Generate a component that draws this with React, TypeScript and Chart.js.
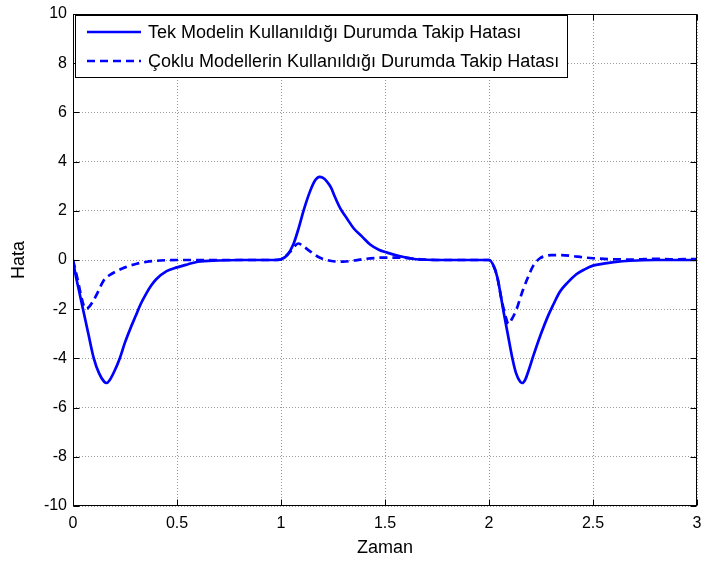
import React, { useEffect, useRef } from "react";
import { Chart, registerables } from "chart.js";

Chart.register(...registerables);

const LABEL_SINGLE = "Tek Modelin Kullanıldığı Durumda Takip Hatası";
const LABEL_MULTI = "Çoklu Modellerin Kullanıldığı Durumda Takip Hatası";
const X_TITLE = "Zaman";
const Y_TITLE = "Hata";

const xTicks = [0, 0.5, 1, 1.5, 2, 2.5, 3];
const yTicks = [-10, -8, -6, -4, -2, 0, 2, 4, 6, 8, 10];

const tSingle = [0, 0.01, 0.025, 0.05, 0.075, 0.1, 0.125, 0.15, 0.162, 0.175, 0.2, 0.226, 0.25, 0.275, 0.3, 0.325, 0.35, 0.375, 0.4, 0.45, 0.5, 0.55, 0.6, 0.7, 0.8, 0.97, 1.0, 1.03, 1.06, 1.085, 1.11, 1.14, 1.165, 1.185, 1.2, 1.22, 1.24, 1.26, 1.285, 1.32, 1.35, 1.39, 1.43, 1.47, 1.51, 1.55, 1.59, 1.64, 1.7, 1.8, 1.99, 2.0, 2.02, 2.04, 2.07, 2.09, 2.11, 2.13, 2.15, 2.16, 2.175, 2.19, 2.213, 2.25, 2.285, 2.31, 2.34, 2.38, 2.42, 2.46, 2.5, 2.55, 2.6, 2.68, 2.8, 3.0];
const ySingle = [0, -0.5, -1.1, -2.07, -3.05, -4.0, -4.6, -4.95, -5.0, -4.9, -4.5, -3.97, -3.35, -2.8, -2.3, -1.8, -1.4, -1.05, -0.78, -0.45, -0.3, -0.18, -0.07, -0.02, 0, 0, 0.03, 0.2, 0.65, 1.3, 2.05, 2.8, 3.25, 3.38, 3.35, 3.2, 2.95, 2.55, 2.1, 1.65, 1.28, 0.95, 0.62, 0.42, 0.3, 0.2, 0.12, 0.04, 0.01, 0, 0, 0, -0.2, -0.7, -2.1, -3.0, -3.9, -4.6, -4.95, -5.0, -4.85, -4.5, -3.9, -3.0, -2.25, -1.8, -1.3, -0.9, -0.58, -0.38, -0.23, -0.15, -0.09, -0.03, 0, 0];

const tMulti = [0, 0.01, 0.025, 0.04, 0.055, 0.065, 0.08, 0.1, 0.12, 0.146, 0.175, 0.21, 0.25, 0.306, 0.35, 0.42, 0.5, 0.97, 1.0, 1.04, 1.07, 1.083, 1.1, 1.14, 1.18, 1.22, 1.26, 1.3, 1.35, 1.4, 1.45, 1.5, 1.56, 1.62, 1.68, 1.75, 2.0, 2.02, 2.04, 2.06, 2.08, 2.093, 2.11, 2.133, 2.15, 2.165, 2.19, 2.213, 2.245, 2.27, 2.3, 2.35, 2.4, 2.45, 2.5, 2.6, 2.7, 2.8, 2.9, 3.0];
const yMulti = [0, -0.35, -0.9, -1.5, -1.93, -1.98, -1.88, -1.62, -1.3, -0.85, -0.62, -0.45, -0.3, -0.15, -0.08, -0.02, 0, 0, 0.02, 0.3, 0.6, 0.67, 0.6, 0.35, 0.12, 0.0, -0.06, -0.07, -0.02, 0.04, 0.08, 0.1, 0.1, 0.07, 0.02, 0, 0, -0.2, -0.7, -1.6, -2.3, -2.6, -2.4, -1.99, -1.55, -1.18, -0.65, -0.23, 0.07, 0.16, 0.2, 0.2, 0.16, 0.11, 0.07, 0.03, 0.02, 0.05, 0.03, 0.04];

const FONT = "'Liberation Sans', Arial, sans-serif";

const boxPlugin = {
  id: "matlabBox",
  afterDraw(chart: any) {
    const { ctx, chartArea } = chart;
    const { left, right, top, bottom } = chartArea;
    const xs = chart.scales.x;
    const ys = chart.scales.y;
    ctx.save();
    ctx.strokeStyle = "#000";
    ctx.lineWidth = 1;
    ctx.setLineDash([]);
    const L = Math.round(left) + 0.5;
    const R = Math.round(right) - 0.5;
    const T = Math.round(top) + 0.5;
    const B = Math.round(bottom) - 0.5;
    ctx.strokeRect(L, T, R - L, B - T);
    const tl = 6;
    ctx.beginPath();
    xTicks.forEach((v) => {
      const px = Math.round(xs.getPixelForValue(v)) + 0.5;
      ctx.moveTo(px, B);
      ctx.lineTo(px, B - tl);
      ctx.moveTo(px, T);
      ctx.lineTo(px, T + tl);
    });
    yTicks.forEach((v) => {
      const py = Math.round(ys.getPixelForValue(v)) + 0.5;
      ctx.moveTo(L, py);
      ctx.lineTo(L + tl, py);
      ctx.moveTo(R, py);
      ctx.lineTo(R - tl, py);
    });
    ctx.stroke();

    // legend
    const lx = 75, ly = 15, lw = 492, lh = 62;
    ctx.fillStyle = "#fff";
    ctx.fillRect(lx, ly, lw, lh);
    ctx.strokeStyle = "#000";
    ctx.strokeRect(lx + 0.5, ly + 0.5, lw, lh);
    const items = chart.data.datasets;
    const rows = [32, 61];
    items.forEach((ds: any, i: number) => {
      const y = rows[i];
      ctx.strokeStyle = ds.borderColor;
      ctx.lineWidth = ds.borderWidth;
      ctx.setLineDash(ds.borderDash || []);
      ctx.beginPath();
      ctx.moveTo(87, y);
      ctx.lineTo(141, y);
      ctx.stroke();
      ctx.setLineDash([]);
      ctx.fillStyle = "#000";
      ctx.font = `18px ${FONT}`;
      ctx.textBaseline = "middle";
      ctx.textAlign = "left";
      ctx.fillText(ds.label, 148, y + 1);
    });
    ctx.restore();
  },
};

export default function App() {
  const ref = useRef<HTMLCanvasElement | null>(null);
  useEffect(() => {
    document.body.style.margin = "0";
    const canvas = ref.current;
    if (!canvas) return;
    Chart.defaults.font.family = FONT;
    Chart.defaults.font.size = 16;
    Chart.defaults.color = "#000";
    const chart = new Chart(canvas, {
      type: "line",
      data: {
        datasets: [
          {
            label: LABEL_SINGLE,
            data: tSingle.map((t, i) => ({ x: t, y: ySingle[i] })),
            borderColor: "#0000ff",
            borderWidth: 2.7,
            pointRadius: 0,
            fill: false,
            cubicInterpolationMode: "monotone",
          },
          {
            label: LABEL_MULTI,
            data: tMulti.map((t, i) => ({ x: t, y: yMulti[i] })),
            borderColor: "#0000ff",
            borderWidth: 2.7,
            borderDash: [8, 5],
            pointRadius: 0,
            fill: false,
            cubicInterpolationMode: "monotone",
          },
        ],
      },
      options: {
        animation: false,
        responsive: false,
        layout: { padding: { left: 0, right: 6, top: 14, bottom: 0 } },
        plugins: { legend: { display: false }, tooltip: { enabled: false } },
        scales: {
          x: {
            type: "linear",
            min: 0,
            max: 3,
            afterBuildTicks: (s: any) => {
              s.ticks = xTicks.map((v) => ({ value: v }));
            },
            afterFit: (s: any) => {
              s.height = 57;
              s.paddingLeft = 0;
              s.paddingRight = 0;
            },
            ticks: {
              callback: (v: any) => String(v),
              padding: 8,
              maxRotation: 0,
              autoSkip: false,
              font: { size: 16 },
            },
            grid: { color: "#9a9a9a", lineWidth: 1, drawTicks: false },
            border: { display: false, dash: [1, 2] },
            title: {
              display: true,
              text: X_TITLE,
              font: { size: 18 },
              padding: { top: 0, bottom: 4 },
            },
          },
          y: {
            type: "linear",
            min: -10,
            max: 10,
            afterBuildTicks: (s: any) => {
              s.ticks = yTicks.map((v) => ({ value: v }));
            },
            afterFit: (s: any) => {
              s.width = 73;
              s.paddingTop = 0;
              s.paddingBottom = 0;
            },
            ticks: {
              callback: (v: any) => String(v),
              padding: 6,
              autoSkip: false,
              font: { size: 16 },
            },
            grid: { color: "#9a9a9a", lineWidth: 1, drawTicks: false },
            border: { display: false, dash: [1, 2] },
            title: {
              display: true,
              text: Y_TITLE,
              font: { size: 18 },
              padding: { top: 8, bottom: 0 },
            },
          },
        },
      },
      plugins: [boxPlugin],
    } as any);
    return () => chart.destroy();
  }, []);
  return (
    <div style={{ width: 703, height: 563 }}>
      <canvas ref={ref} width={703} height={563} style={{ display: "block" }} />
    </div>
  );
}
